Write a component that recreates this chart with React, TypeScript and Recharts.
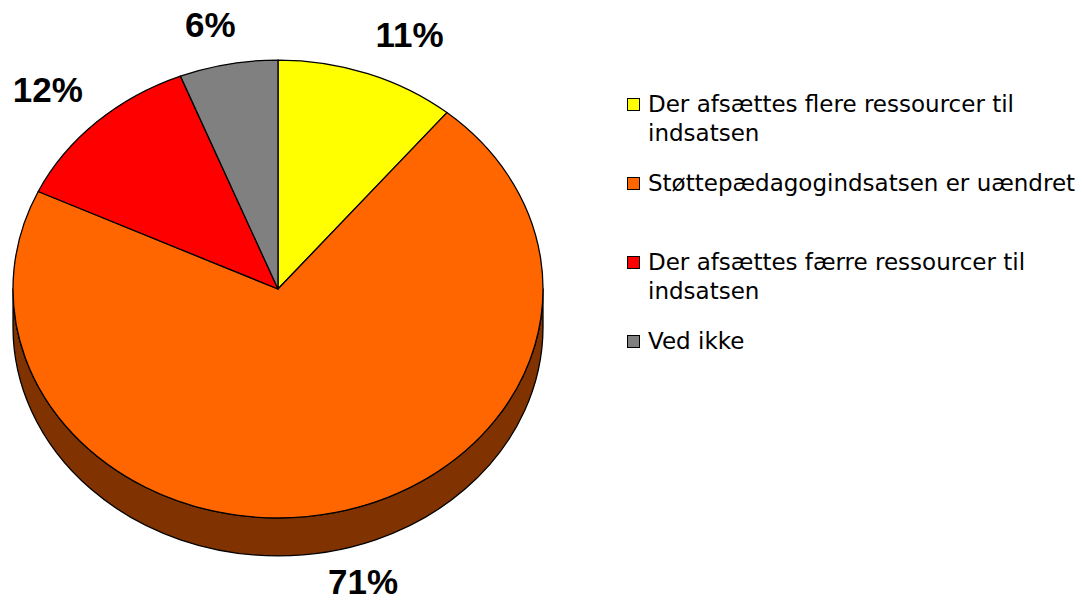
import { PieChart, Pie, Cell, Legend } from "recharts";

const categories = [
  "Der afsættes flere ressourcer til indsatsen",
  "Støttepædagogindsatsen er uændret",
  "Der afsættes færre ressourcer til indsatsen",
  "Ved ikke",
];
const shares = [11, 71, 12, 6];
const colors = ["#FFFF00", "#FF6600", "#FF0000", "#808080"];

const data = categories.map((name, i) => ({ name, value: shares[i] }));

// 3D look: vertical squash of the top face and thickness of the side wall
const TILT = 0.864;
const DEPTH = 38;
const RAD = Math.PI / 180;
const LABEL_FS = 35;

function darken(hex: string, f = 0.5) {
  const n = parseInt(hex.slice(1), 16);
  const r = Math.round(((n >> 16) & 255) * f);
  const g = Math.round(((n >> 8) & 255) * f);
  const b = Math.round((n & 255) * f);
  return `rgb(${r},${g},${b})`;
}

function Slice3D(props: any) {
  const { cx, cy, outerRadius, startAngle, endAngle, fill } = props;
  const rx = outerRadius;
  const ry = outerRadius * TILT;
  const pt = (deg: number, dy = 0) =>
    `${cx + rx * Math.cos(deg * RAD)},${cy - ry * Math.sin(deg * RAD) + dy}`;

  const sweep = endAngle < startAngle ? 1 : 0;
  const large = Math.abs(endAngle - startAngle) > 180 ? 1 : 0;
  const top = `M${cx},${cy} L${pt(startAngle)} A${rx},${ry} 0 ${large} ${sweep} ${pt(endAngle)} Z`;

  // side wall only where the rim faces the viewer (lower half)
  const lo = Math.min(startAngle, endAngle);
  const hi = Math.max(startAngle, endAngle);
  const walls: string[] = [];
  for (let k = -2; k <= 2; k++) {
    const a = Math.max(lo, -180 + 360 * k);
    const b = Math.min(hi, 360 * k);
    if (b - a > 0.01) {
      walls.push(
        `M${pt(a)} A${rx},${ry} 0 0 0 ${pt(b)} L${pt(b, DEPTH)} A${rx},${ry} 0 0 1 ${pt(a, DEPTH)} Z`
      );
    }
  }

  return (
    <g>
      {walls.map((d, i) => (
        <path key={i} d={d} fill={darken(fill)} stroke="#000" strokeWidth={1.3} strokeLinejoin="round" />
      ))}
      <path d={top} fill={fill} stroke="#000" strokeWidth={1.3} strokeLinejoin="round" />
    </g>
  );
}

function renderLabel(props: any) {
  const { cx, cy, midAngle, outerRadius, value } = props;
  const rx = outerRadius;
  const ry = outerRadius * TILT;
  const c = Math.cos(midAngle * RAD);
  const s = Math.sin(midAngle * RAD);
  const ex = cx + rx * c;
  const ey = cy - ry * s + (s < 0 ? DEPTH : 0);
  const w = (String(value).length * 0.556 + 0.889) * LABEL_FS;
  const h = 0.716 * LABEL_FS;
  const gy = s < 0 ? 19 : 28;
  const lx = ex + 20 * c + Math.max(-1, Math.min(1, c * 3)) * (w / 2);
  const ly = ey - gy * s - Math.sign(s) * (h / 2);
  return (
    <text
      x={lx}
      y={ly + h / 2}
      textAnchor="middle"
      fontFamily="'Liberation Sans', Arial, sans-serif"
      fontWeight="bold"
      fontSize={LABEL_FS}
      fill="#000"
    >
      {`${value}%`}
    </text>
  );
}

function LegendBox() {
  return (
    <div
      style={{
        fontFamily: "'DejaVu Sans', Verdana, sans-serif",
        fontSize: 23,
        lineHeight: "29px",
        color: "#000",
      }}
    >
      {categories.map((name, i) => (
        <div key={name} style={{ display: "flex", alignItems: "flex-start", height: 79 }}>
          <span
            style={{
              width: 11,
              height: 11,
              border: "1px solid #000",
              background: colors[i],
              marginTop: 8,
              marginRight: 8,
              flex: "none",
            }}
          />
          <span style={{ width: 435 }}>{name}</span>
        </div>
      ))}
    </div>
  );
}

export default function App() {
  return (
    <div style={{ position: "absolute", left: 0, top: 0, width: 1083, height: 603, background: "#fff" }}>
      <PieChart width={1083} height={603} margin={{ top: 0, right: 0, bottom: 0, left: 0 }}>
        <Pie
          data={data}
          dataKey="value"
          nameKey="name"
          cx={278}
          cy={289}
          innerRadius={0}
          outerRadius={265}
          startAngle={90}
          endAngle={-270}
          stroke="#000"
          label={renderLabel}
          labelLine={false}
          shape={Slice3D}
          inactiveShape={Slice3D}
          activeShape={Slice3D}
          isAnimationActive={false}
        >
          {data.map((d, i) => (
            <Cell key={d.name} fill={colors[i]} />
          ))}
        </Pie>
        <Legend
          layout="horizontal"
          align="center"
          verticalAlign="middle"
          content={<LegendBox />}
          wrapperStyle={{ left: 627, top: 90, width: 456, bottom: "auto", right: "auto" }}
        />
      </PieChart>
    </div>
  );
}
